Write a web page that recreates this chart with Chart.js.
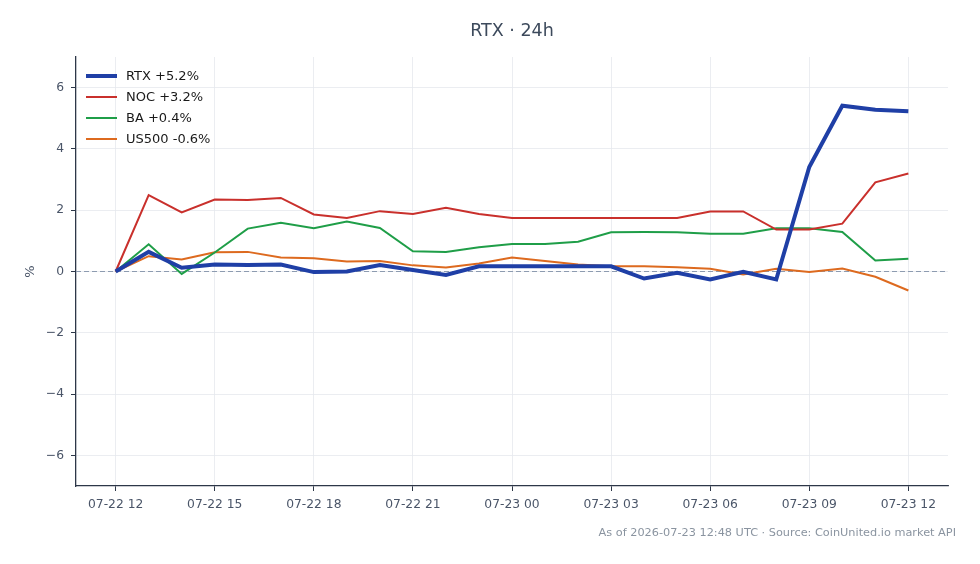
<!DOCTYPE html>
<html>
<head>
<meta charset="utf-8">
<script src="https://cdn.jsdelivr.net/npm/chart.js@4.4.1/dist/chart.umd.min.js"></script>
<style>
  html, body { margin: 0; padding: 0; background: #fff; }
  #wrap { position: relative; width: 980px; height: 564px; font-family: "DejaVu Sans", sans-serif; }
  #title { position: absolute; top: 20px; left: 412px; width: 200px; text-align: center; font-size: 17.5px; color: #3d4a5c; }
  #footer { position: absolute; right: 24px; top: 526px; font-size: 11.3px; color: #8a94a0; }
  #legend { position: absolute; left: 86px; top: 65px; }
  #legend .item { display: flex; align-items: center; height: 21px; font-size: 13px; color: #1a1a1a; }
  #legend .swatch { width: 31px; margin-right: 9px; }
  canvas { position: absolute; left: 0; top: 0; }
</style>
</head>
<body>
<div id="wrap">
  <canvas id="chart" width="980" height="564"></canvas>
  <div id="title">RTX · 24h</div>
  <div id="legend"></div>
  <div id="footer">As of 2026-07-23 12:48 UTC · Source: CoinUnited.io market API</div>
</div>
<script>
// --- DATA (hours since 07-22 12:00 UTC, % change) ---
const hours = [0, 1, 2, 3, 4, 5, 6, 7, 8, 9, 10, 11, 12, 13, 14, 15, 16, 17, 18, 19, 20, 21, 22, 23, 24];
const rtx   = [0, 0.64, 0.12, 0.23, 0.21, 0.23, -0.02, 0.0, 0.21, 0.05, -0.11, 0.17, 0.17, 0.17, 0.17, 0.17, -0.23, -0.04, -0.26, -0.01, -0.26, 3.41, 5.41, 5.28, 5.23];
const noc   = [0, 2.49, 1.93, 2.35, 2.33, 2.40, 1.86, 1.75, 1.97, 1.88, 2.08, 1.88, 1.75, 1.75, 1.75, 1.75, 1.75, 1.75, 1.96, 1.96, 1.37, 1.37, 1.56, 2.91, 3.20];
const ba    = [0, 0.89, -0.08, 0.62, 1.40, 1.59, 1.41, 1.63, 1.42, 0.66, 0.64, 0.79, 0.90, 0.90, 0.97, 1.28, 1.29, 1.28, 1.23, 1.23, 1.41, 1.41, 1.29, 0.36, 0.42];
const us500 = [0, 0.50, 0.39, 0.63, 0.64, 0.46, 0.43, 0.33, 0.34, 0.20, 0.13, 0.26, 0.46, 0.34, 0.23, 0.17, 0.17, 0.14, 0.09, -0.10, 0.09, -0.02, 0.10, -0.17, -0.62];
const seriesNames = ['RTX +5.2%', 'NOC +3.2%', 'BA +0.4%', 'US500 -0.6%'];
const xTickHours = [0, 3, 6, 9, 12, 15, 18, 21, 24];
const xTickLabels = ['07-22 12', '07-22 15', '07-22 18', '07-22 21', '07-23 00', '07-23 03', '07-23 06', '07-23 09', '07-23 12'];
const yTicks = [-6, -4, -2, 0, 2, 4, 6];

// --- CHART ---
const FONT = '"DejaVu Sans", sans-serif';
const toXY = arr => arr.map((v, i) => ({ x: hours[i], y: v }));

// dashed reference line at 0%
const zeroLine = {
    id: 'zeroLine',
    beforeDatasetsDraw(chart) {
        const { ctx, chartArea } = chart;
        const y = chart.scales.y.getPixelForValue(0);
        ctx.save();
        ctx.strokeStyle = '#8d9bb0';
        ctx.lineWidth = 1;
        ctx.setLineDash([5, 3]);
        ctx.beginPath();
        ctx.moveTo(chartArea.left, y);
        ctx.lineTo(chartArea.right, y);
        ctx.stroke();
        ctx.restore();
    }
};

const fmtY = v => (v < 0 ? '\u2212' + Math.abs(v) : String(v));

const chart = new Chart(document.getElementById('chart'), {
    type: 'line',
    data: {
        datasets: [
            { label: seriesNames[0], data: toXY(rtx), borderColor: '#1f3fa6', borderWidth: 4, pointRadius: 0, order: 0 },
            { label: seriesNames[1], data: toXY(noc), borderColor: '#c9302c', borderWidth: 2, pointRadius: 0, order: 1 },
            { label: seriesNames[2], data: toXY(ba), borderColor: '#1f9e48', borderWidth: 2, pointRadius: 0, order: 2 },
            { label: seriesNames[3], data: toXY(us500), borderColor: '#dd6a1f', borderWidth: 2, pointRadius: 0, order: 3 }
        ]
    },
    options: {
        responsive: false,
        animation: false,
        layout: { padding: { left: 0, right: 32, top: 57, bottom: 48 } },
        scales: {
            x: {
                type: 'linear',
                min: -1.2,
                max: 25.2,
                afterBuildTicks: s => { s.ticks = xTickHours.map(v => ({ value: v })); },
                afterFit: s => { s.height = 30; },
                ticks: {
                    callback: v => xTickLabels[xTickHours.indexOf(v)],
                    font: { family: FONT, size: 12.3 },
                    color: '#4a5568',
                    padding: 6,
                    maxRotation: 0,
                    autoSkip: false
                },
                grid: { color: '#e6e9ee', lineWidth: 0.8, tickColor: '#2d3748', tickLength: 5, tickWidth: 1 },
                border: { color: '#2d3748', width: 1.3 }
            },
            y: {
                min: -7,
                max: 7,
                afterBuildTicks: s => { s.ticks = yTicks.map(v => ({ value: v })); },
                afterFit: s => { s.width = 76; },
                ticks: {
                    callback: v => fmtY(v),
                    font: { family: FONT, size: 12.3 },
                    color: '#4a5568',
                    padding: 7
                },
                title: {
                    display: true,
                    text: '%',
                    font: { family: FONT, size: 13 },
                    color: '#4a5568',
                    padding: { top: 23, bottom: 0 }
                },
                grid: { color: '#e6e9ee', lineWidth: 0.8, tickColor: '#2d3748', tickLength: 5, tickWidth: 1 },
                border: { color: '#2d3748', width: 1.3 }
            }
        },
        plugins: {
            legend: { display: false },
            tooltip: { enabled: false }
        }
    },
    plugins: [zeroLine]
});

// --- LEGEND (inside the plot, upper left) ---
const legendEl = document.getElementById('legend');
chart.data.datasets.forEach(ds => {
    const item = document.createElement('div');
    item.className = 'item';
    item.innerHTML = `<span class="swatch" style="border-top:${ds.borderWidth}px solid ${ds.borderColor}"></span><span>${ds.label}</span>`;
    legendEl.appendChild(item);
});
</script>
</body>
</html>
